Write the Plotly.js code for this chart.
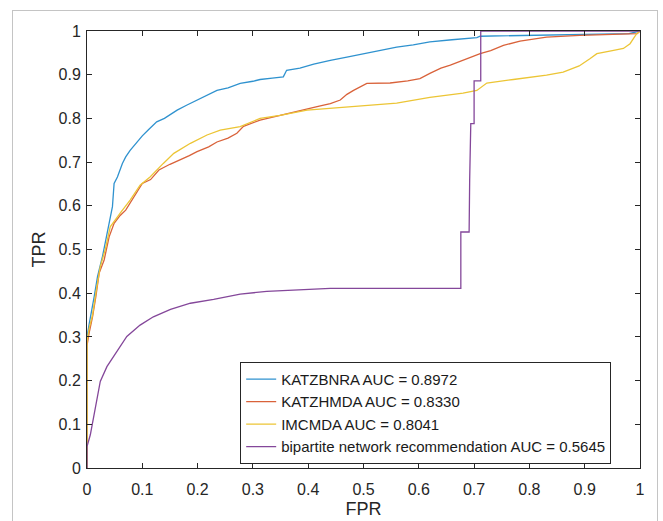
<!DOCTYPE html>
<html>
<head>
<meta charset="utf-8">
<script src="https://cdn.plot.ly/plotly-3.0.1.min.js"></script>
<style>
  html, body { margin: 0; padding: 0; background: #ffffff; }
  #wrap { position: relative; width: 663px; height: 521px; overflow: hidden; }
  #chart { position: absolute; left: 0; top: 0; width: 663px; height: 521px; }
  #frame { position: absolute; left: 12px; top: 10px; width: 644px; height: 520px;
           border: 1px solid #c4c4c4; pointer-events: none; }
</style>
</head>
<body>
<div id="wrap">
  <div id="chart"></div>
  <div id="frame"></div>
</div>
<script>
// ---- data ----
const seriesNames = [
  "KATZBNRA AUC = 0.8972",
  "KATZHMDA AUC = 0.8330",
  "IMCMDA AUC = 0.8041",
  "bipartite network recommendation AUC = 0.5645"
];

const katzbnraFPR = [0, 0, 0.004, 0.007, 0.013, 0.019, 0.028, 0.034, 0.040, 0.046, 0.049, 0.055, 0.064, 0.070, 0.078, 0.090, 0.100, 0.112, 0.126, 0.140, 0.163, 0.180, 0.199, 0.215, 0.235, 0.255, 0.277, 0.300, 0.313, 0.335, 0.355, 0.361, 0.385, 0.410, 0.440, 0.470, 0.500, 0.530, 0.560, 0.590, 0.620, 0.660, 0.705, 0.711, 0.750, 0.800, 0.860, 0.920, 0.980, 1.0];
const katzbnraTPR = [0, 0.30, 0.33, 0.354, 0.392, 0.438, 0.484, 0.522, 0.560, 0.598, 0.651, 0.666, 0.697, 0.712, 0.727, 0.745, 0.760, 0.775, 0.792, 0.800, 0.819, 0.830, 0.842, 0.852, 0.864, 0.870, 0.880, 0.885, 0.889, 0.892, 0.895, 0.910, 0.915, 0.924, 0.933, 0.940, 0.948, 0.955, 0.963, 0.968, 0.975, 0.980, 0.985, 0.988, 0.989, 0.990, 0.992, 0.993, 0.994, 1.0];

const katzhmdaFPR = [0, 0, 0.004, 0.010, 0.016, 0.022, 0.031, 0.040, 0.049, 0.060, 0.070, 0.085, 0.100, 0.115, 0.130, 0.150, 0.169, 0.185, 0.199, 0.220, 0.235, 0.255, 0.271, 0.283, 0.313, 0.349, 0.375, 0.398, 0.420, 0.440, 0.458, 0.470, 0.482, 0.506, 0.548, 0.580, 0.602, 0.620, 0.640, 0.657, 0.687, 0.711, 0.730, 0.753, 0.783, 0.831, 0.891, 0.950, 0.995, 1.0];
const katzhmdaTPR = [0, 0.28, 0.31, 0.346, 0.392, 0.446, 0.476, 0.529, 0.560, 0.578, 0.590, 0.620, 0.651, 0.660, 0.682, 0.695, 0.705, 0.715, 0.724, 0.735, 0.746, 0.755, 0.766, 0.782, 0.796, 0.807, 0.815, 0.823, 0.828, 0.834, 0.842, 0.855, 0.864, 0.880, 0.881, 0.886, 0.891, 0.903, 0.915, 0.922, 0.937, 0.948, 0.955, 0.967, 0.977, 0.986, 0.990, 0.992, 0.994, 1.0];

const imcmdaFPR = [0, 0, 0.004, 0.010, 0.016, 0.024, 0.033, 0.042, 0.060, 0.078, 0.096, 0.114, 0.138, 0.157, 0.187, 0.217, 0.241, 0.277, 0.313, 0.349, 0.398, 0.440, 0.500, 0.560, 0.620, 0.680, 0.705, 0.723, 0.771, 0.831, 0.861, 0.890, 0.910, 0.922, 0.950, 0.970, 0.982, 0.990, 0.994, 1.0];
const imcmdaTPR = [0, 0.29, 0.32, 0.35, 0.40, 0.461, 0.50, 0.552, 0.583, 0.613, 0.647, 0.666, 0.697, 0.720, 0.743, 0.762, 0.773, 0.781, 0.800, 0.807, 0.819, 0.823, 0.828, 0.835, 0.848, 0.858, 0.864, 0.881, 0.889, 0.899, 0.906, 0.920, 0.937, 0.948, 0.955, 0.960, 0.971, 0.985, 0.994, 1.0];

const bipartiteFPR = [0, 0, 0.006, 0.012, 0.018, 0.024, 0.036, 0.054, 0.072, 0.096, 0.120, 0.151, 0.187, 0.229, 0.277, 0.325, 0.398, 0.440, 0.550, 0.676, 0.676, 0.691, 0.692, 0.694, 0.700, 0.700, 0.712, 0.712, 1.0];
const bipartiteTPR = [0, 0.049, 0.076, 0.118, 0.156, 0.198, 0.232, 0.266, 0.301, 0.327, 0.346, 0.363, 0.377, 0.386, 0.398, 0.404, 0.409, 0.411, 0.411, 0.411, 0.540, 0.540, 0.660, 0.788, 0.788, 0.886, 0.886, 1.0, 1.0];

const tickVals = [0, 0.1, 0.2, 0.3, 0.4, 0.5, 0.6, 0.7, 0.8, 0.9, 1];
const tickText = ["0", "0.1", "0.2", "0.3", "0.4", "0.5", "0.6", "0.7", "0.8", "0.9", "1"];

const colors = ["#2f92cf", "#d9623a", "#ecc535", "#84479a"];

// ---- traces ----
const xs = [katzbnraFPR, katzhmdaFPR, imcmdaFPR, bipartiteFPR];
const ys = [katzbnraTPR, katzhmdaTPR, imcmdaTPR, bipartiteTPR];
const traces = xs.map((x, i) => ({
  type: "scatter",
  mode: "lines",
  x: x,
  y: ys[i],
  name: seriesNames[i],
  line: { color: colors[i], width: 1.3 }
}));

const fontFam = "'Liberation Sans', Arial, Helvetica, sans-serif";
const axisCommon = {
  range: [0, 1],
  tickmode: "array",
  tickvals: tickVals,
  ticktext: tickText,
  ticks: "inside",
  ticklen: 5,
  tickwidth: 1,
  tickcolor: "#262626",
  showline: true,
  linecolor: "#262626",
  linewidth: 1,
  mirror: "ticks",
  showgrid: false,
  zeroline: false,
  fixedrange: true,
  tickfont: { family: fontFam, size: 16, color: "#262626" }
};

const layout = {
  width: 663,
  height: 521,
  margin: { l: 87, r: 23, t: 31, b: 53 },
  paper_bgcolor: "#ffffff",
  plot_bgcolor: "#ffffff",
  font: { family: fontFam, color: "#262626" },
  showlegend: true,
  xaxis: Object.assign({}, axisCommon, {
    ticklabelstandoff: 7,
    title: { text: "FPR", font: { family: fontFam, size: 18, color: "#262626" }, standoff: 5 }
  }),
  yaxis: Object.assign({}, axisCommon, {
    ticklabelstandoff: 2,
    title: { text: "TPR", font: { family: fontFam, size: 18, color: "#262626" }, standoff: 8 }
  }),
  legend: {
    x: 0.277,
    y: 0.243,
    xanchor: "left",
    yanchor: "top",
    bgcolor: "#ffffff",
    bordercolor: "#262626",
    borderwidth: 1,
    tracegroupgap: 0,
    itemwidth: 30,
    font: { family: fontFam, size: 15, color: "#1a1a1a" }
  }
};

Plotly.newPlot("chart", traces, layout, { staticPlot: true, displayModeBar: false });
</script>
</body>
</html>
